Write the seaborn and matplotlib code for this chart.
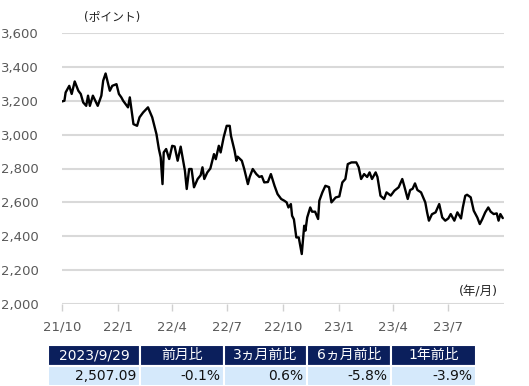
import matplotlib
matplotlib.use("Agg")
import matplotlib.pyplot as plt
import seaborn as sns
import pandas as pd

dates = [
    "2021-10-01", "2021-10-05", "2021-10-07", "2021-10-13", "2021-10-17", "2021-10-22", "2021-10-28",
    "2021-11-01", "2021-11-05", "2021-11-10", "2021-11-13", "2021-11-16", "2021-11-21", "2021-11-29",
    "2021-12-05", "2021-12-08", "2021-12-12", "2021-12-19", "2021-12-23", "2021-12-30",
    "2022-01-03", "2022-01-07", "2022-01-10", "2022-01-18", "2022-01-21", "2022-01-27",
    "2022-02-02", "2022-02-06", "2022-02-12", "2022-02-20", "2022-02-27",
    "2022-03-06", "2022-03-10", "2022-03-13", "2022-03-16", "2022-03-18", "2022-03-22", "2022-03-27",
    "2022-04-01", "2022-04-05", "2022-04-10", "2022-04-15", "2022-04-22", "2022-04-25", "2022-04-29",
    "2022-05-03", "2022-05-07", "2022-05-13", "2022-05-18", "2022-05-21", "2022-05-24", "2022-05-29",
    "2022-06-03", "2022-06-09", "2022-06-12", "2022-06-17", "2022-06-20", "2022-06-25", "2022-06-30",
    "2022-07-05", "2022-07-07", "2022-07-13", "2022-07-16", "2022-07-18", "2022-07-25", "2022-07-29",
    "2022-08-04", "2022-08-07", "2022-08-12", "2022-08-18", "2022-08-23", "2022-08-27", "2022-08-31",
    "2022-09-06", "2022-09-11", "2022-09-17", "2022-09-22", "2022-09-28",
    "2022-10-03", "2022-10-07", "2022-10-10", "2022-10-14", "2022-10-16", "2022-10-19", "2022-10-23", "2022-10-27",
    "2022-11-01", "2022-11-05", "2022-11-07", "2022-11-10", "2022-11-15", "2022-11-18", "2022-11-23", "2022-11-28", "2022-11-30",
    "2022-12-05", "2022-12-10", "2022-12-16", "2022-12-20", "2022-12-27",
    "2023-01-02", "2023-01-07", "2023-01-12", "2023-01-16", "2023-01-22", "2023-01-30",
    "2023-02-03", "2023-02-07", "2023-02-12", "2023-02-17", "2023-02-21", "2023-02-25",
    "2023-03-03", "2023-03-06", "2023-03-11", "2023-03-17", "2023-03-21", "2023-03-28",
    "2023-04-03", "2023-04-10", "2023-04-16", "2023-04-19", "2023-04-25", "2023-04-29",
    "2023-05-03", "2023-05-07", "2023-05-11", "2023-05-17", "2023-05-24", "2023-05-27", "2023-05-30",
    "2023-06-04", "2023-06-10", "2023-06-16", "2023-06-21", "2023-06-26",
    "2023-07-01", "2023-07-05", "2023-07-11", "2023-07-16", "2023-07-22", "2023-07-25", "2023-07-29",
    "2023-08-01", "2023-08-07", "2023-08-12", "2023-08-18", "2023-08-22", "2023-08-26", "2023-08-31",
    "2023-09-05", "2023-09-09", "2023-09-14", "2023-09-19", "2023-09-22", "2023-09-25", "2023-09-29",
]
values = [
    3196, 3200, 3249, 3288, 3240, 3314, 3259,
    3240, 3190, 3170, 3230, 3170, 3230, 3170,
    3230, 3318, 3361, 3259, 3288, 3298,
    3240, 3220, 3200, 3161, 3220, 3062,
    3052, 3102, 3131, 3161, 3102,
    3003, 2915, 2866, 2708, 2895, 2915, 2856,
    2934, 2930, 2846, 2929, 2787, 2679, 2797,
    2797, 2689, 2738, 2760, 2807, 2738, 2777,
    2800, 2885, 2855, 2934, 2895, 2984, 3052,
    3052, 2994, 2905, 2846, 2870, 2846, 2797,
    2708, 2750, 2797, 2767, 2750, 2755, 2718,
    2720, 2767, 2698, 2649, 2620,
    2610, 2600, 2570, 2590, 2521, 2500, 2393, 2393,
    2295, 2462, 2433, 2511, 2570, 2545, 2545, 2502, 2610,
    2659, 2698, 2690, 2600, 2629,
    2635, 2718, 2738, 2826, 2836, 2836,
    2807, 2738, 2767, 2750, 2777, 2738,
    2777, 2750, 2639, 2620, 2659, 2640,
    2669, 2689, 2738, 2700, 2620, 2673,
    2680, 2712, 2673, 2659, 2600, 2541, 2492,
    2530, 2541, 2590, 2511, 2492,
    2505, 2531, 2492, 2541, 2505, 2570, 2639,
    2645, 2630, 2551, 2510, 2472, 2500, 2541,
    2570, 2545, 2531, 2535, 2492, 2531, 2507.09,
]

yticks = [2000, 2200, 2400, 2600, 2800, 3000, 3200, 3400, 3600]
xtick_dates = ["2021-10-01", "2022-01-01", "2022-04-01", "2022-07-01",
               "2022-10-01", "2023-01-01", "2023-04-01", "2023-07-01"]
xtick_labels = ["21/10", "22/1", "22/4", "22/7", "22/10", "23/1", "23/4", "23/7"]

table_header = ["2023/9/29", "前月比", "3ヵ月前比", "6ヵ月前比", "1年前比"]
table_values = ["2,507.09", "-0.1%", "0.6%", "-5.8%", "-3.9%"]

sns.set_theme(style="white")
plt.rcParams["font.family"] = ["DejaVu Sans", "Noto Sans CJK JP"]

df = pd.DataFrame({"date": pd.to_datetime(dates), "value": values})

W, H = 529, 386
fig = plt.figure(figsize=(W / 100, H / 100), dpi=100)
ax = fig.add_axes([62 / W, 1 - 304 / H, (504 - 62) / W, (304 - 33) / H])

sns.lineplot(data=df, x="date", y="value", ax=ax, color="black", linewidth=1.7, zorder=3)

ax.set_xlim(pd.Timestamp("2021-10-01"), pd.Timestamp("2023-10-01"))
ax.set_ylim(2000, 3600)
ax.set_yticks(yticks)
ax.set_yticklabels([f"{v:,}" for v in yticks])
ax.set_xticks(pd.to_datetime(xtick_dates))
ax.set_xticklabels(xtick_labels)
ax.set_xlabel("")
ax.set_ylabel("")
for s in ax.spines.values():
    s.set_visible(False)
ax.grid(axis="y", color="#d9d9d9", linewidth=1.5, zorder=0)
ax.grid(axis="x", visible=False)
ax.tick_params(axis="y", length=0, pad=17, labelsize=9.5, labelcolor="#595959")
ax.tick_params(axis="x", length=5, width=1, color="#d0d0d0", direction="out",
               pad=7, labelsize=9.5, labelcolor="#595959", bottom=True)

fig.text(84 / W, 1 - 17 / H, "(ポイント)", fontsize=8.5, color="#222222",
         ha="left", va="center")
fig.text(498 / W, 1 - 292 / H, "(年/月)", fontsize=9, color="#222222",
         ha="right", va="center")

# table
tax = fig.add_axes([48 / W, 0, (476 - 48) / W, (386 - 345) / H])
tax.axis("off")
col_w = [92, 84, 83, 84, 85]
tot = sum(col_w)
tbl = tax.table(cellText=[table_header, table_values],
                colWidths=[c / tot for c in col_w],
                bbox=[0, 0, 1, 1])
tbl.auto_set_font_size(False)
navy = "#0b1f5c"
light = "#d5e9fb"
for (r, c), cell in tbl.get_celld().items():
    cell.set_edgecolor("white")
    cell.set_linewidth(1.5)
    txt = cell.get_text()
    txt.set_fontsize(10)
    if r == 0:
        cell.set_facecolor(navy)
        txt.set_color("white")
        cell._loc = "center"
        txt.set_ha("center")
    else:
        cell.set_facecolor(light)
        txt.set_color("#111111")
        cell._loc = "right"
        txt.set_ha("right")
        cell.PAD = 0.04

fig.savefig("out.png", dpi=100)
